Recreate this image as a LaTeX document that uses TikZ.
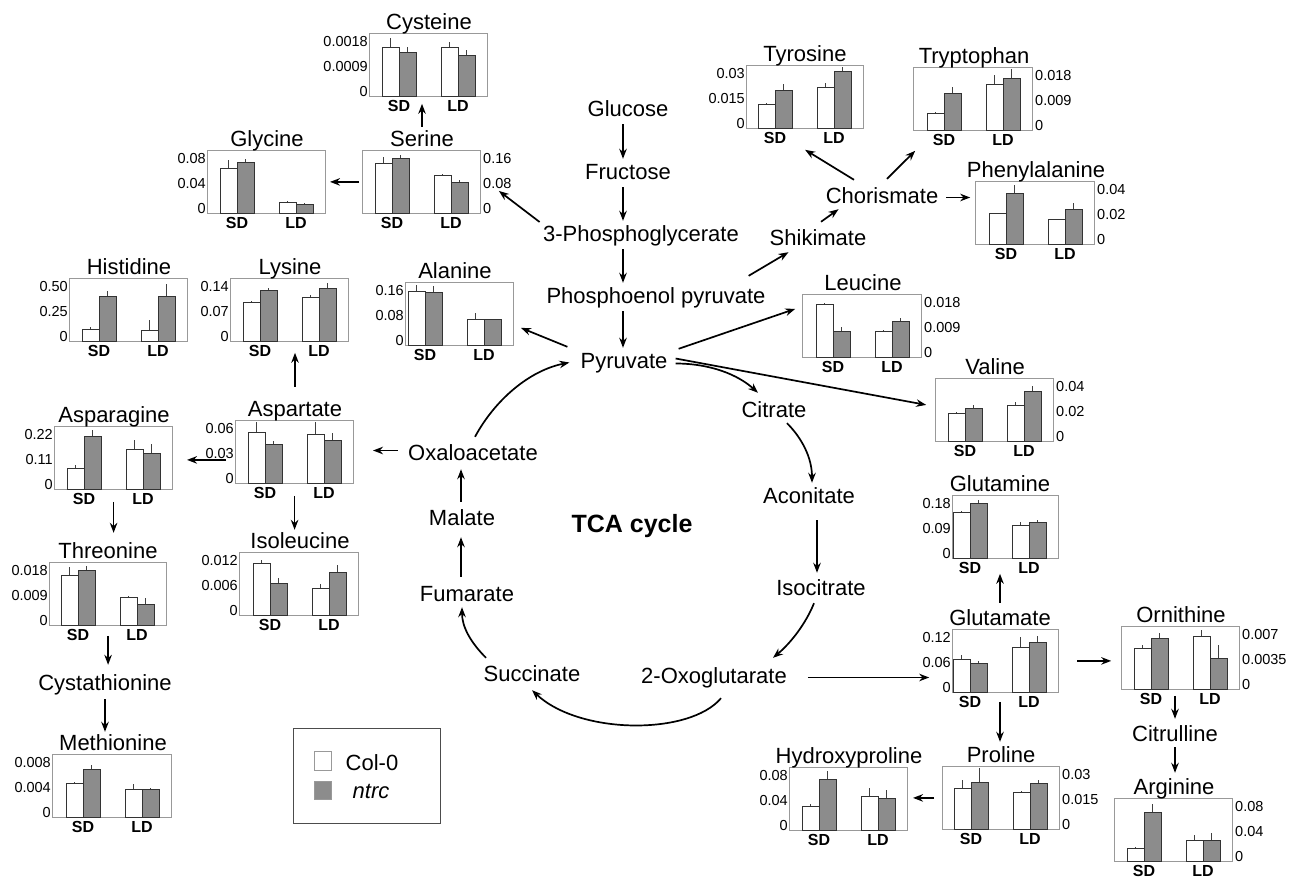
\documentclass[tikz,border=0pt]{standalone}
\usepackage{fontspec}
\setmainfont{Liberation Sans}
\usetikzlibrary{arrows.meta,calc}

\definecolor{barfill}{gray}{0.55}
\definecolor{boxline}{gray}{0.6}

\tikzset{
  pbox/.style={draw=boxline, line width=0.8pt, minimum height=63pt, inner sep=0pt},
  ptitle/.style={font=\fontsize{22}{26}\selectfont, anchor=base, inner sep=1pt, text height=16pt, text depth=5pt},
  met/.style={ptitle},
  ptick/.style={font=\fontsize{14.5}{17}\selectfont, inner sep=1pt},
  plab/.style={font=\bfseries\fontsize{16}{19}\selectfont, inner sep=1pt},
  wbar/.style={draw=black!80, fill=white, line width=0.9pt},
  gbar/.style={draw=black!80, fill=barfill, line width=0.9pt},
  ebar/.style={draw=black!75, line width=0.7pt},
  arr/.style={-{Stealth[length=10pt,width=7.5pt]}, line width=1.7pt},
}

% #1 name, #2 right x, #3 top y, #4 width, #5 title, #6 axis side (l/r),
% #7 tick labels, #8 SD bars, #9 LD bars (white/err/grey/err, share of height)
\newcommand{\barpanel}[9]{%
  \node[pbox, minimum width=#4pt, anchor=north east] (#1) at (#2,#3) {};
  \node[ptitle] (#1-t) at ({#2-59},{#3-4}) {#5};
  \foreach \v [count=\i] in {#7} {
    \if#6l
      \node[ptick, anchor=east] (#1-y\i) at ({#2-#4-1},{#3+63-63*(1.27-0.4*\i)}) {\v};
    \else
      \node[ptick, anchor=west] (#1-y\i) at ({#2+1},{#3+63-63*(1.27-0.4*\i)}) {\v};
    \fi
  }
  \foreach \g/\dx/\wh/\we/\gh/\ge in {SD/89/#8,LD/30/#9} {
    \draw[ebar] ({#2-\dx-8.5},{#3+63-63*\wh}) -- ({#2-\dx-8.5},{#3+63-63*\we});
    \draw[ebar] ({#2-\dx+8.5},{#3+63-63*\gh}) -- ({#2-\dx+8.5},{#3+63-63*\ge});
    \draw[wbar] ({#2-\dx-17},{#3+63}) rectangle ({#2-\dx},{#3+63-63*\wh});
    \draw[gbar] ({#2-\dx},{#3+63}) rectangle ({#2-\dx+17},{#3+63-63*\gh});
    \node[plab] (#1-\g) at ({#2-\dx},{#3+73}) {\g};
  }
}

\begin{document}
\begin{tikzpicture}[x=1pt,y=-1pt]
\useasboundingbox (0,0) rectangle (1293,878);

% panels
\barpanel{cys}{488}{33}{118}{Cysteine}{l}{0.0018,0.0009,0}{0.77/0.92/0.69/0.77}{0.77/0.86/0.64/0.73}
\barpanel{gly}{326}{150}{118}{Glycine}{l}{0.08,0.04,0}{0.70/0.84/0.81/0.86}{0.17/0.19/0.14/0.16}
\barpanel{ser}{481}{150}{118}{Serine}{r}{0.16,0.08,0}{0.78/0.89/0.87/0.92}{0.59/0.62/0.49/0.52}
\barpanel{his}{188}{278}{118}{Histidine}{l}{0.50,0.25,0}{0.19/0.22/0.70/0.80}{0.17/0.34/0.70/0.91}
\barpanel{lys}{349}{278}{118}{Lysine}{l}{0.14,0.07,0}{0.61/0.63/0.81/0.84}{0.69/0.73/0.84/0.92}
\barpanel{ala}{514}{282}{108}{Alanine}{l}{0.16,0.08,0}{0.85/0.95/0.84/0.93}{0.41/0.51/0.41/0.41}
\barpanel{asn}{173}{426}{118}{Asparagine}{l}{0.22,0.11,0}{0.33/0.38/0.83/0.94}{0.62/0.78/0.57/0.71}
\barpanel{asp}{354}{420}{118}{Aspartate}{l}{0.06,0.03,0}{0.81/0.97/0.61/0.66}{0.77/0.97/0.68/0.79}
\barpanel{thr}{167}{562}{117}{Threonine}{l}{0.018,0.009,0}{0.78/0.92/0.86/0.94}{0.43/0.46/0.32/0.43}
\barpanel{ile}{359}{552}{119}{Isoleucine}{l}{0.012,0.006,0}{0.82/0.87/0.50/0.58}{0.42/0.50/0.68/0.79}
\barpanel{met}{172}{754}{119}{Methionine}{l}{0.008,0.004,0}{0.54/0.55/0.76/0.83}{0.44/0.52/0.44/0.46}
\barpanel{tyr}{864}{65}{117}{Tyrosine}{l}{0.03,0.015,0}{0.38/0.40/0.59/0.70}{0.65/0.71/0.89/0.97}
\barpanel{trp}{1033}{67}{119}{Tryptophan}{r}{0.018,0.009,0}{0.27/0.29/0.58/0.68}{0.73/0.87/0.82/0.97}
\barpanel{phe}{1095}{181}{119}{Phenylalanine}{r}{0.04,0.02,0}{0.48/0.50/0.81/0.94}{0.39/0.40/0.55/0.65}
\barpanel{leu}{922}{294}{119}{Leucine}{r}{0.018,0.009,0}{0.83/0.86/0.41/0.48}{0.41/0.43/0.57/0.62}
\barpanel{val}{1054}{378}{118}{Valine}{r}{0.04,0.02,0}{0.44/0.46/0.52/0.57}{0.57/0.62/0.78/0.87}
\barpanel{gln}{1059}{495}{106}{Glutamine}{l}{0.18,0.09,0}{0.73/0.75/0.87/0.92}{0.52/0.57/0.57/0.60}
\barpanel{glu}{1059}{629}{106}{Glutamate}{l}{0.12,0.06,0}{0.52/0.59/0.46/0.49}{0.71/0.87/0.79/0.89}
\barpanel{orn}{1240}{626}{118}{Ornithine}{r}{0.007,0.0035,0}{0.64/0.70/0.81/0.89}{0.83/0.94/0.48/0.70}
\barpanel{pro}{1060}{766}{117}{Proline}{r}{0.03,0.015,0}{0.65/0.77/0.74/0.97}{0.58/0.61/0.73/0.77}
\barpanel{hyp}{908}{767}{118}{Hydroxyproline}{l}{0.08,0.04,0}{0.37/0.42/0.81/0.94}{0.53/0.66/0.50/0.63}
\barpanel{arg}{1233}{798}{118}{Arginine}{r}{0.08,0.04,0}{0.20/0.22/0.77/0.91}{0.33/0.42/0.33/0.45}

% metabolites
\node[met] (glc) at (628,116) {Glucose};
\node[met] (fru) at (628,179) {Fructose};
\node[met] (pga) at (641,241) {3-Phosphoglycerate};
\node[met] (pep) at (656,303) {Phosphoenol pyruvate};
\node[met] (pyr) at (624,368) {Pyruvate};
\node[met] (shk) at (818,245) {Shikimate};
\node[met] (chor) at (882,203) {Chorismate};
\node[met] (cit) at (774,417) {Citrate};
\node[met] (aco) at (809,503) {Aconitate};
\node[met] (ict) at (821,595) {Isocitrate};
\node[met] (ogl) at (714,683) {2-Oxoglutarate};
\node[met] (suc) at (532,681) {Succinate};
\node[met] (fum) at (467,601) {Fumarate};
\node[met] (mal) at (462,525) {Malate};
\node[met] (oaa) at (473,460) {Oxaloacetate};
\node[met] (cth) at (105,690) {Cystathionine};
\node[met] (ctl) at (1175,741) {Citrulline};
\node[font=\bfseries\fontsize{25}{30}\selectfont, anchor=base] (tca) at (632,532) {TCA cycle};

% legend
\node[draw=black!70, line width=1pt, minimum width=147pt, minimum height=95pt, anchor=north west] (leg) at (293,728) {};
\node[draw=boxline, fill=white, minimum width=17pt, minimum height=19pt, inner sep=0pt] (legw) at (322.5,760.5) {};
\node[draw=boxline, fill=barfill, minimum width=17pt, minimum height=18pt, inner sep=0pt] (legg) at (322.5,790) {};
\node[met] (legwt) at (372,770) {Col-0};
\node[met, font=\itshape\fontsize{22}{26}\selectfont] (leggt) at (371,798) {ntrc};

% glycolysis
\coordinate (col) at (623,0);
\coordinate (tcal) at (461,0);
\coordinate (tcar) at (817,0);
\draw[arr, shorten <=2pt, shorten >=3pt] (glc.south -| col) -- (fru.north -| col);
\draw[arr, shorten <=2pt, shorten >=3pt] (fru.south -| col) -- (pga.north -| col);
\draw[arr, shorten <=2pt, shorten >=3pt] (pga.south -| col) -- (pep.north -| col);
\draw[arr, shorten <=2pt, shorten >=3pt] (pep.south -| col) -- (pyr.north -| col);

% serine branch
\draw[arr, shorten <=3pt, shorten >=2pt] (pga.north west) -- (ser-y2.south);
\draw[arr, shorten <=3pt, shorten >=4pt] (ser.west) -- (gly.east);
\draw[arr, shorten <=2pt, shorten >=7pt] (ser-t.north) -- (ser-t.north |- cys.south);

% pyruvate and aspartate branches
\draw[arr] ($(pyr.north west)+(-12,-4)$) -- ($(ala.east)+(7,14)$);
\draw[arr, shorten <=12pt, shorten >=11pt] (asp-t.north) -- (asp-t.north |- lys.south);
\draw[arr, shorten <=9pt, shorten >=19pt] ([yshift=4pt]oaa.west) -- ([yshift=4pt]oaa.west -| asp.east);
\draw[arr, shorten <=9pt, shorten >=14pt] ([yshift=-8pt]asp.west) -- ([yshift=-8pt]asp.west -| asn.east);
\draw[arr, shorten <=12pt, shorten >=1pt] (asp.south) -- (asp.south |- ile-t.north);
\draw[arr, shorten <=12pt, shorten >=8pt] (asn.south) -- (asn.south |- thr-t.north);
\draw[arr, shorten <=10pt, shorten >=8pt] (thr.south) -- (thr.south |- cth.north);
\draw[arr, shorten <=3pt, shorten >=1pt] (cth.south) -- (cth.south |- met-t.north);

% shikimate branch
\draw[arr] ($(pep.north east)+(-18,-10)$) -- ($(shk.south west)+(20,1)$);
\draw[arr] ($(shk.north)+(3,-6)$) -- ($(chor.south west)+(14,0)$);
\draw[arr] ($(chor.north)+(-28,-6)$) -- ($(tyr.south)+(0,21)$);
\draw[arr] ($(chor.north)+(5,-7)$) -- ($(trp.south west)+(2,20)$);
\draw[arr, shorten <=7pt, shorten >=5pt] (chor.east) -- (chor.east -| phe.west);
\draw[arr] ($(pyr.north east)+(10,-2)$) -- ($(leu.west)+(-7,-17)$);
\draw[arr] ($(pyr.east)+(7,-4)$) -- ($(val.west)+(-9,-5)$);

% TCA cycle
\draw[arr] ($(pyr.east)+(7,1)$) .. controls +(35,0) and +(-20,-18) .. ($(cit.north)+(-16,-7)$);
\draw[arr] ($(cit.south)+(13,0)$) .. controls +(15,15) and +(0,-25) .. ($(aco.north)+(3,-3)$);
\draw[arr, shorten <=11pt, shorten >=5pt] (aco.south -| tcar) -- (ict.north -| tcar);
\draw[arr] ($(ict.south)+(-7,2)$) .. controls +(-8,20) and +(18,-15) .. ($(ogl.north)+(59,-8)$);
\draw[arr] ($(ogl.south)+(7,9)$) .. controls +(-31,37) and +(48,45) .. ($(suc.south)+(0,3)$);
\draw[arr] ($(suc.north)+(-46,-6)$) .. controls +(-15,-15) and +(0,20) .. ($(fum.south)+(-5,0)$);
\draw[arr, shorten <=7pt, shorten >=6pt] (fum.north -| tcal) -- (mal.south -| tcal);
\draw[arr, shorten <=6pt, shorten >=3pt] (mal.north -| tcal) -- (oaa.south -| tcal);
\draw[arr] ($(oaa.north)+(2,-6)$) .. controls +(20,-37) and +(-40,8) .. ($(pyr.west)+(-10,0)$);

% glutamate branch
\draw[arr, shorten <=20pt, shorten >=23pt] (ogl.east) -- (ogl.east -| glu.west);
\draw[arr, shorten <=5pt, shorten >=15pt] (glu-t.north) -- (glu-t.north |- gln.south);
\draw[arr, shorten <=18pt, shorten >=10pt] (glu.east) -- (glu.east -| orn.west);
\draw[arr, shorten <=9pt, shorten >=3pt] (glu-t |- glu.south) -- (glu-t |- pro-t.north);
\draw[arr, shorten <=6pt, shorten >=5pt] (ctl.north |- orn.south) -- (ctl.north);
\draw[arr, shorten >=4pt] (ctl.south) -- (ctl.south |- arg-t.north);
\draw[arr, shorten <=8pt, shorten >=5pt] (pro.west) -- (pro.west -| hyp.east);
\end{tikzpicture}
\end{document}
